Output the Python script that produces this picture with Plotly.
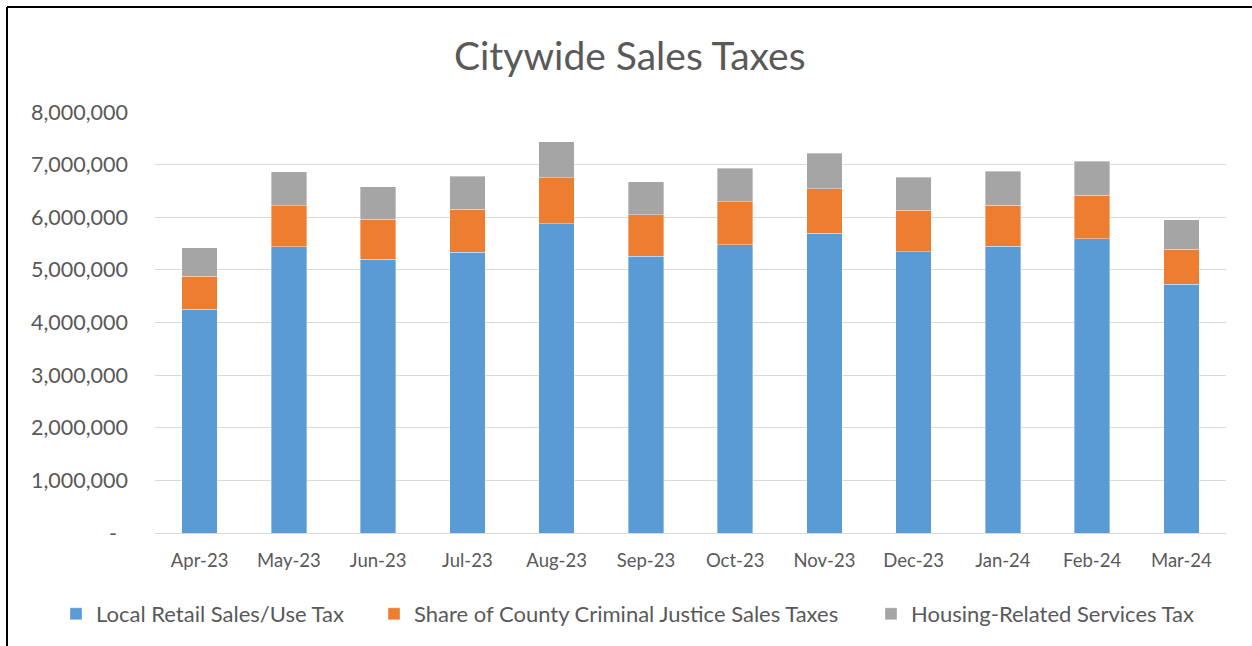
import plotly.graph_objects as go

months = ["Apr-23", "May-23", "Jun-23", "Jul-23", "Aug-23", "Sep-23",
          "Oct-23", "Nov-23", "Dec-23", "Jan-24", "Feb-24", "Mar-24"]
local_retail = [4254000, 5436000, 5203000, 5336000, 5879000, 5260000,
                5480000, 5696000, 5342000, 5450000, 5588000, 4729000]
county_cj = [626000, 784000, 759000, 816000, 873000, 790000,
             816000, 847000, 791000, 778000, 829000, 664000]
housing = [537000, 641000, 613000, 626000, 683000, 620000,
           634000, 671000, 626000, 645000, 651000, 561000]
y_ticks = [0, 1000000, 2000000, 3000000, 4000000, 5000000, 6000000, 7000000, 8000000]
y_tick_text = ["-\u00a0\u00a0", "1,000,000", "2,000,000", "3,000,000", "4,000,000",
               "5,000,000", "6,000,000", "7,000,000", "8,000,000"]

FONT = "Lato"
TXT = "#595959"
W, H = 1252, 646
ml, mr, mt, mb = 155, 26, 112, 113
pw, ph = W - ml - mr, H - mt - mb

fig = go.Figure()
series = [
    ("Local Retail Sales/Use Tax", local_retail, "#5B9BD5", "legend", 56),
    ("Share of County Criminal Justice Sales Taxes", county_cj, "#ED7D31", "legend2", 374),
    ("Housing-Related Services Tax", housing, "#A5A5A5", "legend3", 871),
]
legends = {}
for name, vals, col, lg, lx in series:
    fig.add_trace(go.Bar(x=months, y=vals, name=name, legend=lg,
                         marker=dict(color=col, line=dict(color="rgba(255,255,255,0.6)", width=0.6))))
    legends[lg] = dict(orientation="h", xref="container", yref="container",
                       x=lx / W, xanchor="left", y=1 - 614 / H, yanchor="middle",
                       font=dict(size=22, color=TXT), itemwidth=30,
                       bgcolor="rgba(0,0,0,0)")

fig.update_layout(
    width=W, height=H,
    barmode="stack", bargap=0.6,
    margin=dict(l=ml, r=mr, t=mt, b=mb, autoexpand=False),
    paper_bgcolor="white", plot_bgcolor="white",
    font=dict(family=FONT, color=TXT),
    title=dict(text="Citywide Sales Taxes", x=0.503, xanchor="center",
               y=1 - 56 / H, yanchor="middle", xref="container", yref="container",
               font=dict(size=39, color=TXT, family=FONT)),
    xaxis=dict(showgrid=False, showline=True, linecolor="#D9D9D9", linewidth=1,
               tickfont=dict(size=18.5, color=TXT), ticks="", ticklabelstandoff=11),
    yaxis=dict(range=[0, 8000000], tickvals=y_ticks, ticktext=y_tick_text,
               showgrid=True, gridcolor="#D9D9D9", gridwidth=1, zeroline=False,
               showline=False, ticks="", ticklabelstandoff=26,
               tickfont=dict(size=21.5, color=TXT)),
    showlegend=True,
    shapes=[
        dict(type="line", xref="paper", yref="paper",
             x0=(7 - ml) / pw, x1=(7 - ml) / pw, y0=1 + (mt - 7) / ph, y1=-(mb + 5) / ph,
             line=dict(color="black", width=2)),
        dict(type="line", xref="paper", yref="paper",
             x0=(7 - ml) / pw, x1=1 + (mr + 5) / pw, y0=1 + (mt - 7) / ph, y1=1 + (mt - 7) / ph,
             line=dict(color="black", width=2)),
    ],
    **legends,
)

fig.write_html("out.html")
